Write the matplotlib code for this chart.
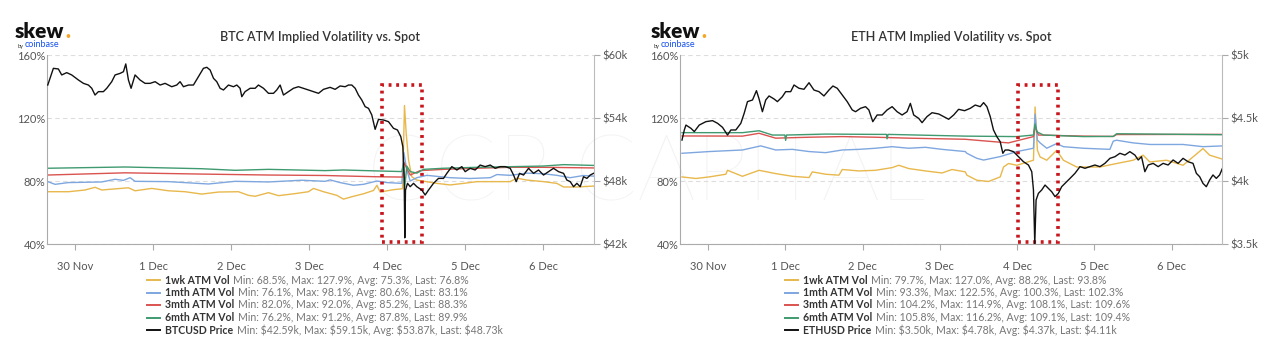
import matplotlib
matplotlib.use("Agg")
import matplotlib.pyplot as plt
from matplotlib.patches import Rectangle
from matplotlib.lines import Line2D

plt.rcParams['font.family'] = ['Lato', 'DejaVu Sans']

# x values are days after 30 Nov 00:00
day_ticks = [0, 1, 2, 3, 4, 5, 6]
day_labels = ['30 Nov', '1 Dec', '2 Dec', '3 Dec', '4 Dec', '5 Dec', '6 Dec']

# ---------------- BTC ----------------
btc_px_t = [-0.350, -0.321, -0.278, -0.214, -0.171, -0.107, -0.043, 0.043, 0.107, 0.171,
            0.214, 0.256, 0.299, 0.363, 0.406, 0.470, 0.513, 0.577, 0.620, 0.650,
            0.684, 0.718, 0.769, 0.833, 0.897, 0.962, 1.026, 1.090, 1.154, 1.239,
            1.303, 1.346, 1.389, 1.453, 1.517, 1.581, 1.645, 1.688, 1.731, 1.774,
            1.816, 1.859, 1.902, 1.966, 2.030, 2.073, 2.115, 2.137, 2.179, 2.244,
            2.308, 2.350, 2.415, 2.479, 2.543, 2.585, 2.628, 2.671, 2.735, 2.799,
            2.863, 2.927, 2.991, 3.056, 3.120, 3.184, 3.269, 3.333, 3.397, 3.462,
            3.504, 3.547, 3.590, 3.632, 3.675, 3.718, 3.761, 3.803, 3.846, 3.889,
            3.953, 4.017, 4.081, 4.132, 4.175, 4.201, 4.218, 4.226, 4.235, 4.261,
            4.295, 4.338, 4.380, 4.444, 4.487, 4.530, 4.594, 4.658, 4.722, 4.765,
            4.829, 4.893, 4.957, 5.000, 5.064, 5.128, 5.192, 5.256, 5.321, 5.385,
            5.449, 5.513, 5.577, 5.620, 5.654, 5.697, 5.748, 5.812, 5.876, 5.940,
            6.004, 6.068, 6.132, 6.197, 6.261, 6.303, 6.346, 6.389, 6.432, 6.474,
            6.517, 6.560, 6.603, 6.645]
btc_px = [57.14, 57.78, 58.73, 58.67, 58.10, 58.32, 58.10, 57.62, 57.30, 57.14,
          56.83, 56.19, 56.51, 56.51, 56.83, 57.46, 58.10, 58.25, 58.41, 59.15,
          57.62, 56.83, 58.10, 57.62, 57.30, 57.30, 57.46, 57.14, 57.30, 56.98,
          57.14, 57.46, 56.98, 57.14, 57.14, 57.94, 58.73, 58.83, 58.57, 57.78,
          57.46, 56.83, 56.67, 57.14, 56.98, 57.14, 56.83, 56.03, 56.51, 56.83,
          56.83, 57.14, 56.83, 56.35, 56.35, 56.67, 57.14, 56.19, 56.51, 56.83,
          56.98, 56.83, 56.67, 56.51, 56.35, 56.73, 56.92, 56.73, 57.05, 56.98,
          57.14, 57.14, 56.83, 56.19, 55.71, 55.08, 54.92, 54.29, 52.92, 53.87,
          53.81, 53.65, 53.02, 52.86, 52.22, 51.27, 48.41, 42.59, 47.14, 47.78,
          47.46, 47.78, 47.46, 47.14, 46.67, 47.14, 47.78, 48.25, 48.25, 48.73,
          49.37, 49.05, 49.37, 48.89, 49.21, 49.05, 49.52, 49.37, 49.52, 49.21,
          49.37, 49.37, 49.21, 48.57, 47.94, 48.73, 48.57, 49.21, 48.73, 49.05,
          48.57, 48.89, 49.21, 48.89, 48.73, 48.09, 47.94, 47.46, 47.78, 47.46,
          48.41, 48.25, 48.57, 48.73]

btc_1wk_t = [-0.350, -0.085, 0.128, 0.256, 0.342, 0.684, 0.769, 0.983, 1.197, 1.410,
             1.624, 1.838, 2.094, 2.222, 2.308, 2.479, 2.607, 2.821, 2.991, 3.056,
             3.184, 3.355, 3.440, 3.568, 3.697, 3.825, 3.868, 3.910, 4.081, 4.197,
             4.222, 4.244, 4.274, 4.316, 4.380, 4.637, 4.808, 4.979, 5.150, 5.577,
             5.662, 5.791, 6.004, 6.175, 6.261, 6.432, 6.645]
btc_1wk = [73.2, 73.2, 74.3, 76.0, 74.3, 75.7, 73.8, 75.3, 73.8, 73.2,
           71.7, 73.0, 73.2, 70.9, 70.3, 72.6, 70.7, 72.0, 73.2, 75.3,
           73.2, 70.9, 68.5, 70.3, 71.9, 74.0, 77.2, 73.0, 74.5, 75.1,
           127.9, 110.3, 93.4, 82.7, 80.6, 78.5, 77.5, 78.5, 79.6, 79.6,
           81.8, 80.6, 79.6, 78.5, 76.2, 76.2, 76.8]

btc_1m_t = [-0.350, -0.256, -0.085, 0.342, 0.513, 0.620, 0.705, 0.769, 1.197, 1.709,
            2.051, 2.479, 2.906, 3.205, 3.269, 3.397, 3.568, 3.697, 3.868, 3.996,
            4.188, 4.214, 4.252, 4.295, 4.380, 4.509, 4.808, 5.064, 5.321, 5.406,
            5.577, 5.791, 6.004, 6.175, 6.346, 6.517, 6.645]
btc_1m = [79.6, 77.9, 79.0, 79.4, 81.1, 80.4, 82.1, 79.8, 79.6, 78.1,
          79.8, 79.4, 80.5, 79.8, 80.7, 79.0, 77.3, 77.9, 80.0, 79.0,
          78.5, 98.1, 87.0, 80.0, 82.1, 83.6, 82.1, 81.6, 82.1, 84.1,
          83.6, 85.0, 84.6, 83.6, 82.1, 83.5, 83.1]

btc_3m_t = [-0.350, 0.641, 1.624, 2.479, 3.205, 3.440, 3.868, 4.201, 4.213, 4.295,
            4.423, 4.722, 5.150, 5.577, 6.004, 6.645]
btc_3m = [83.8, 85.2, 84.4, 83.8, 83.5, 83.2, 82.7, 82.5, 92.0, 83.8,
          86.6, 87.4, 88.1, 88.7, 88.7, 88.3]

btc_6m_t = [-0.350, 0.641, 1.624, 2.051, 2.479, 3.205, 3.440, 3.868, 4.188, 4.209,
            4.226, 4.252, 4.295, 4.380, 4.466, 4.722, 5.150, 5.577, 6.004, 6.261, 6.645]
btc_6m = [88.1, 88.9, 87.8, 86.8, 87.4, 86.6, 87.0, 86.4, 86.0, 91.2,
          76.2, 89.5, 86.0, 85.0, 87.4, 88.1, 88.7, 89.1, 89.5, 90.4, 89.9]

# ---------------- ETH ----------------
eth_px_t = [-0.335, -0.305, -0.284, -0.219, -0.176, -0.112, -0.026, 0.060, 0.125, 0.189,
            0.254, 0.297, 0.361, 0.426, 0.469, 0.512, 0.577, 0.628, 0.662, 0.705,
            0.748, 0.791, 0.856, 0.899, 0.963, 1.006, 1.071, 1.114, 1.178, 1.243,
            1.308, 1.372, 1.437, 1.501, 1.566, 1.617, 1.673, 1.738, 1.802, 1.867,
            1.910, 1.974, 2.039, 2.082, 2.133, 2.189, 2.254, 2.318, 2.383, 2.447,
            2.512, 2.576, 2.619, 2.662, 2.727, 2.770, 2.834, 2.899, 2.985, 3.050,
            3.114, 3.179, 3.243, 3.320, 3.394, 3.458, 3.523, 3.566, 3.609, 3.652,
            3.694, 3.737, 3.781, 3.815, 3.845, 3.888, 3.953, 4.017, 4.082, 4.146,
            4.189, 4.211, 4.228, 4.245, 4.275, 4.318, 4.361, 4.404, 4.447, 4.490,
            4.533, 4.576, 4.619, 4.684, 4.748, 4.813, 4.877, 4.942, 5.006, 5.071,
            5.135, 5.200, 5.265, 5.329, 5.394, 5.458, 5.523, 5.566, 5.609, 5.652,
            5.695, 5.759, 5.824, 5.888, 5.953, 6.017, 6.082, 6.146, 6.211, 6.275,
            6.318, 6.361, 6.404, 6.447, 6.490, 6.533, 6.576, 6.619, 6.662]
eth_px = [4.325, 4.405, 4.444, 4.418, 4.392, 4.444, 4.471, 4.479, 4.458, 4.426,
          4.365, 4.405, 4.405, 4.458, 4.537, 4.630, 4.643, 4.717, 4.651, 4.550,
          4.643, 4.675, 4.651, 4.630, 4.669, 4.709, 4.709, 4.762, 4.736, 4.728,
          4.780, 4.722, 4.709, 4.675, 4.722, 4.754, 4.736, 4.683, 4.630, 4.564,
          4.550, 4.577, 4.590, 4.564, 4.471, 4.524, 4.524, 4.564, 4.590, 4.550,
          4.524, 4.550, 4.616, 4.524, 4.497, 4.463, 4.511, 4.542, 4.532, 4.511,
          4.490, 4.524, 4.569, 4.558, 4.577, 4.603, 4.590, 4.622, 4.590, 4.511,
          4.405, 4.352, 4.312, 4.220, 4.246, 4.246, 4.233, 4.193, 4.153, 4.127,
          4.074, 3.929, 3.500, 3.849, 3.902, 3.929, 3.968, 3.942, 3.915, 3.876,
          3.902, 3.955, 3.981, 4.021, 4.061, 4.114, 4.101, 4.114, 4.127, 4.114,
          4.140, 4.180, 4.193, 4.220, 4.206, 4.233, 4.206, 4.167, 4.193, 4.074,
          4.127, 4.140, 4.114, 4.140, 4.127, 4.167, 4.140, 4.180, 4.153, 4.140,
          4.061, 4.034, 3.981, 3.955, 4.008, 4.048, 4.021, 4.048, 4.110]

eth_1wk_t = [-0.335, -0.155, 0.017, 0.232, 0.254, 0.447, 0.662, 0.877, 1.092, 1.308,
             1.351, 1.523, 1.695, 1.738, 1.953, 2.168, 2.383, 2.469, 2.598, 2.813,
             3.028, 3.157, 3.329, 3.350, 3.479, 3.630, 3.781, 3.824, 3.888, 3.996,
             4.211, 4.232, 4.262, 4.297, 4.383, 4.512, 4.598, 4.770, 5.071, 5.286,
             5.501, 5.630, 5.716, 5.931, 6.146, 6.404, 6.490, 6.662]
eth_1wk = [82.6, 81.6, 82.6, 84.3, 86.8, 83.0, 86.8, 84.7, 83.0, 82.2,
           85.8, 84.3, 83.7, 87.3, 86.4, 86.8, 88.5, 90.0, 87.9, 86.4,
           85.1, 87.3, 85.8, 83.7, 80.5, 79.7, 82.6, 88.9, 91.1, 90.0,
           93.2, 127.0, 99.5, 95.3, 93.2, 99.5, 93.2, 88.9, 88.9, 91.1,
           93.2, 96.4, 92.1, 93.2, 90.0, 100.6, 96.4, 93.8]

eth_1m_t = [-0.335, 0.017, 0.447, 0.684, 0.877, 1.092, 1.308, 1.523, 1.738, 1.953,
            2.168, 2.383, 2.598, 2.813, 3.028, 3.329, 3.350, 3.479, 3.566, 3.781,
            3.996, 4.211, 4.232, 4.262, 4.297, 4.383, 4.512, 4.598, 4.856, 5.200,
            5.243, 5.286, 5.501, 5.716, 6.146, 6.404, 6.662]
eth_1m = [97.6, 98.7, 99.7, 102.3, 99.7, 100.1, 98.7, 98.0, 99.7, 100.1,
          100.8, 101.8, 100.8, 101.4, 100.1, 98.7, 97.6, 94.4, 93.3, 95.5,
          98.7, 100.8, 122.5, 106.0, 104.2, 100.8, 103.8, 101.8, 100.8, 100.1,
          105.3, 105.9, 104.2, 103.2, 103.2, 101.8, 102.3]

eth_3m_t = [-0.335, 0.447, 0.662, 0.877, 1.308, 1.738, 2.168, 2.598, 3.329, 3.566,
            3.888, 4.211, 4.232, 4.275, 4.856, 5.243, 5.286, 6.662]
eth_3m = [108.6, 108.5, 110.3, 107.2, 107.8, 108.2, 107.8, 107.2, 106.5, 105.5,
          104.2, 108.2, 114.9, 109.2, 108.5, 108.3, 109.5, 109.6]

eth_6m_t = [-0.335, 0.447, 0.662, 0.834, 0.995, 1.006, 1.017, 1.523, 2.168, 2.310,
            2.318, 2.330, 3.329, 3.996, 4.211, 4.232, 4.253, 4.340, 4.856, 5.243,
            5.286, 6.662]
eth_6m = [110.7, 110.7, 111.9, 109.2, 109.2, 105.8, 109.2, 109.8, 109.6, 109.6,
          106.8, 109.6, 108.5, 108.2, 109.2, 116.2, 111.3, 109.2, 108.2, 108.3,
          110.0, 109.4]

vol_names = ['1wk ATM Vol', '1mth ATM Vol', '3mth ATM Vol', '6mth ATM Vol']
vol_colors = ['#e8b84c', '#7fa7df', '#d9534f', '#3f9a70']

btc_stats = ['Min: 68.5%, Max: 127.9%, Avg: 75.3%, Last: 76.8%',
             'Min: 76.1%, Max: 98.1%, Avg: 80.6%, Last: 83.1%',
             'Min: 82.0%, Max: 92.0%, Avg: 85.2%, Last: 88.3%',
             'Min: 76.2%, Max: 91.2%, Avg: 87.8%, Last: 89.9%',
             'Min: $42.59k, Max: $59.15k, Avg: $53.87k, Last: $48.73k']
eth_stats = ['Min: 79.7%, Max: 127.0%, Avg: 88.2%, Last: 93.8%',
             'Min: 93.3%, Max: 122.5%, Avg: 100.3%, Last: 102.3%',
             'Min: 104.2%, Max: 114.9%, Avg: 108.1%, Last: 109.6%',
             'Min: 105.8%, Max: 116.2%, Avg: 109.1%, Last: 109.4%',
             'Min: $3.50k, Max: $4.78k, Avg: $4.37k, Last: $4.11k']

vol_ticks = [40, 80, 120, 160]
vol_labels = ['40%', '80%', '120%', '160%']
btc_px_ticks = [42, 48, 54, 60]
btc_px_labels = ['$42k', '$48k', '$54k', '$60k']
eth_px_ticks = [3.5, 4.0, 4.5, 5.0]
eth_px_labels = ['$3.5k', '$4k', '$4.5k', '$5k']

# highlighted crash window (days, vol %)
btc_box = (3.94, 4.45, 41, 141)
eth_box = (4.01, 4.53, 41, 141)

TICK_COLOR = '#555555'
AXIS_COLOR = '#aaaaaa'


def draw_panel(rect, title, vols, px_t, px, px_ticks, px_labels, box,
               price_name, stats, logo_x, legend_x):
    ax = fig.add_axes(rect)
    ax.patch.set_alpha(0)
    for (t, v), c in zip(vols, vol_colors):
        ax.plot(t, v, color=c, lw=1.0, zorder=2)
    ax.set_xlim(-0.36, 6.65)
    ax.set_ylim(40, 160)
    ax.set_yticks(vol_ticks)
    ax.set_yticklabels(vol_labels)
    ax.set_xticks(day_ticks)
    ax.set_xticklabels(day_labels)
    ax.grid(axis='y', color='#dddddd', linestyle=(0, (4, 3)), lw=0.8)
    ax.set_axisbelow(True)
    for s in ['top', 'right']:
        ax.spines[s].set_visible(False)
    for s in ['left', 'bottom']:
        ax.spines[s].set_color(AXIS_COLOR)
    ax.tick_params(axis='x', colors=AXIS_COLOR, labelcolor=TICK_COLOR,
                   labelsize=8, length=4, pad=8)
    ax.tick_params(axis='y', length=0, labelcolor=TICK_COLOR, labelsize=8, pad=1)

    ax2 = ax.twinx()
    ax2.patch.set_alpha(0)
    ax2.plot(px_t, px, color='#111111', lw=1.0, zorder=3)
    ax2.set_ylim(px_ticks[0], px_ticks[-1])
    ax2.set_yticks(px_ticks)
    ax2.set_yticklabels(px_labels)
    ax2.set_xlim(-0.36, 6.65)
    for s in ['top', 'left', 'bottom']:
        ax2.spines[s].set_visible(False)
    ax2.spines['right'].set_color('#bbbbbb')
    ax2.tick_params(axis='y', colors=AXIS_COLOR, labelcolor=TICK_COLOR,
                    labelsize=8, length=4, pad=2)

    x0, x1, y0, y1 = box
    ax.add_patch(Rectangle((x0, y0), x1 - x0, y1 - y0, fill=False,
                           edgecolor='#c8161d', lw=2.6,
                           linestyle=(0, (0.8, 1.3)), zorder=5, clip_on=False))

    cx = rect[0] + rect[2] / 2
    fig.text(cx, 0.895, title, ha='center', va='center', fontsize=9,
             fontweight='semibold', color='#333333')

    # logo
    lg = fig.text(logo_x, 0.893, 'skew', fontsize=15, fontweight='heavy',
                  color='#111111', va='baseline')
    ax.annotate('.', xy=(1, 0), xycoords=lg, xytext=(0.3, 0),
                textcoords='offset points', fontsize=15, fontweight='heavy',
                color='#f5a623', va='bottom', annotation_clip=False)
    by = fig.text(logo_x + 0.002, 0.862, 'by', fontsize=4, color='#333333',
                  va='baseline')
    ax.annotate('coinbase', xy=(1, 0), xycoords=by, xytext=(0.5, 0),
                textcoords='offset points', fontsize=6.5, color='#1652f0',
                va='bottom', annotation_clip=False)

    # legend
    names = vol_names + [price_name]
    colors = vol_colors + ['#111111']
    for i, (n, c, st) in enumerate(zip(names, colors, stats)):
        yy = 1 - (280 + i * 12.5) / 351
        fig.add_artist(Line2D([legend_x, legend_x + 13 / 1280], [yy, yy],
                              transform=fig.transFigure, color=c, lw=1.4))
        t = fig.text(legend_x + 18 / 1280, yy, n, fontsize=7.6,
                     fontweight='bold', color='#333333', va='center')
        ax.annotate(st, xy=(1, 0.5), xycoords=t, xytext=(2.5, 0),
                    textcoords='offset points', fontsize=7.6, color='#777777',
                    va='center', annotation_clip=False, parse_math=False)
    return ax


fig = plt.figure(figsize=(12.8, 3.51), dpi=100)
fig.patch.set_facecolor('white')

# faint watermark behind both panels
fig.text(0.505, 0.50, 'GCP CAPITAL', ha='center', va='center', fontsize=66,
         fontweight='light', color='#f3f3f3', zorder=-5)

draw_panel([0.0367, 0.3048, 0.4273, 0.5385], 'BTC ATM Implied Volatility vs. Spot',
           [(btc_1wk_t, btc_1wk), (btc_1m_t, btc_1m), (btc_3m_t, btc_3m), (btc_6m_t, btc_6m)],
           btc_px_t, btc_px, btc_px_ticks, btc_px_labels, btc_box,
           'BTCUSD Price', btc_stats, 15 / 1280, 147 / 1280)

draw_panel([0.5313, 0.3048, 0.4234, 0.5385], 'ETH ATM Implied Volatility vs. Spot',
           [(eth_1wk_t, eth_1wk), (eth_1m_t, eth_1m), (eth_3m_t, eth_3m), (eth_6m_t, eth_6m)],
           eth_px_t, eth_px, eth_px_ticks, eth_px_labels, eth_box,
           'ETHUSD Price', eth_stats, 651 / 1280, 785 / 1280)

fig.savefig('out.png', dpi=100, facecolor='white')
